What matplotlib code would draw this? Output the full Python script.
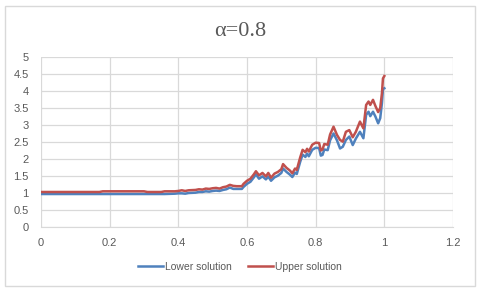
import numpy as np
import matplotlib
matplotlib.use('Agg')
import matplotlib.pyplot as plt
from matplotlib.patches import Rectangle

# Values
x_vals = [0.00, 0.17, 0.18, 0.30, 0.31, 0.35, 0.36, 0.39, 0.40, 0.41, 0.42, 0.43,
          0.45, 0.46, 0.47, 0.48, 0.49, 0.50, 0.51, 0.52, 0.53, 0.54, 0.55, 0.56,
          0.57, 0.585, 0.59, 0.60, 0.61, 0.62, 0.626, 0.635, 0.645, 0.655, 0.662,
          0.67, 0.68, 0.69, 0.70, 0.705, 0.715, 0.725, 0.732, 0.74, 0.745, 0.755,
          0.762, 0.77, 0.775, 0.78, 0.79, 0.80, 0.81, 0.815, 0.82, 0.825, 0.835,
          0.842, 0.852, 0.862, 0.871, 0.879, 0.888, 0.898, 0.908, 0.917, 0.929,
          0.939, 0.947, 0.954, 0.959, 0.967, 0.974, 0.982, 0.988, 0.993, 0.996, 1.00]
upper = [1.03, 1.03, 1.05, 1.05, 1.03, 1.03, 1.05, 1.05, 1.06, 1.08, 1.06, 1.08,
         1.09, 1.11, 1.10, 1.13, 1.12, 1.14, 1.15, 1.13, 1.17, 1.19, 1.24, 1.21,
         1.20, 1.20, 1.27, 1.36, 1.42, 1.55, 1.64, 1.52, 1.59, 1.49, 1.59,
         1.45, 1.57, 1.62, 1.70, 1.85, 1.74, 1.66, 1.58, 1.72, 1.68, 2.05,
         2.27, 2.20, 2.30, 2.22, 2.42, 2.48, 2.47, 2.25, 2.28, 2.44, 2.42,
         2.72, 2.95, 2.71, 2.56, 2.51, 2.80, 2.85, 2.64, 2.80, 3.10,
         2.90, 3.59, 3.69, 3.59, 3.74, 3.56, 3.38, 3.50, 3.93, 4.37, 4.44]
lower = [0.97, 0.97, 0.97, 0.97, 0.97, 0.97, 0.97, 0.98, 0.99, 0.99, 0.98, 1.00,
         1.01, 1.03, 1.03, 1.05, 1.04, 1.06, 1.07, 1.06, 1.09, 1.11, 1.16, 1.12,
         1.12, 1.12, 1.18, 1.27, 1.33, 1.46, 1.55, 1.42, 1.49, 1.40, 1.48,
         1.36, 1.46, 1.51, 1.59, 1.72, 1.62, 1.54, 1.47, 1.60, 1.56, 1.92,
         2.13, 2.06, 2.16, 2.08, 2.27, 2.33, 2.32, 2.10, 2.12, 2.28, 2.26,
         2.55, 2.75, 2.55, 2.31, 2.36, 2.56, 2.66, 2.41, 2.60, 2.80,
         2.61, 3.30, 3.39, 3.26, 3.39, 3.25, 3.05, 3.20, 3.64, 4.06, 4.08]

x_ticks = [0, 0.2, 0.4, 0.6, 0.8, 1, 1.2]
x_labels = ['0', '0.2', '0.4', '0.6', '0.8', '1', '1.2']
y_ticks = [0, 0.5, 1, 1.5, 2, 2.5, 3, 3.5, 4, 4.5, 5]
y_labels = ['0', '0.5', '1', '1.5', '2', '2.5', '3', '3.5', '4', '4.5', '5']

GRID = '#D9D9D9'
TEXT = '#595959'

fig = plt.figure(figsize=(4.8, 2.92), dpi=100)
fig.patches.append(Rectangle((5 / 480, 6 / 292), 470 / 480, 280 / 292,
                             transform=fig.transFigure, fill=False,
                             edgecolor=GRID, lw=1.0))

ax = fig.add_axes([41 / 480, 1 - 227 / 292, 412 / 480, 170 / 292])
ax.plot(x_vals, lower, color='#4F81BD', lw=1.8, label='Lower solution', zorder=3)
ax.plot(x_vals, upper, color='#C0504D', lw=1.8, label='Upper solution', zorder=3)

ax.set_xlim(0, 1.2)
ax.set_ylim(0, 5)
ax.set_xticks(x_ticks)
ax.set_xticklabels(x_labels)
ax.set_yticks(y_ticks)
ax.set_yticklabels(y_labels)
ax.grid(True, color=GRID, lw=0.9)
ax.set_axisbelow(True)
for side in ['top', 'right', 'left']:
    ax.spines[side].set_visible(False)
ax.spines['bottom'].set_color(GRID)
ax.tick_params(length=0, labelsize=8, labelcolor=TEXT)
ax.tick_params(axis='y', pad=9)
ax.tick_params(axis='x', pad=8)
for lab in ax.get_xticklabels() + ax.get_yticklabels():
    lab.set_family('Liberation Sans')

fig.text(0.5, 1 - 31 / 292, 'α=0.8', ha='center', va='center',
         family='Liberation Serif', fontsize=16, color=TEXT)

leg = fig.legend(loc='center', bbox_to_anchor=(0.5, 1 - 267 / 292), ncol=2,
                 frameon=False, handlelength=2.4, handletextpad=0.2,
                 columnspacing=1.5, prop={'family': 'Liberation Sans', 'size': 7.5})
for t in leg.get_texts():
    t.set_color(TEXT)

fig.savefig('out.png', dpi=100)
